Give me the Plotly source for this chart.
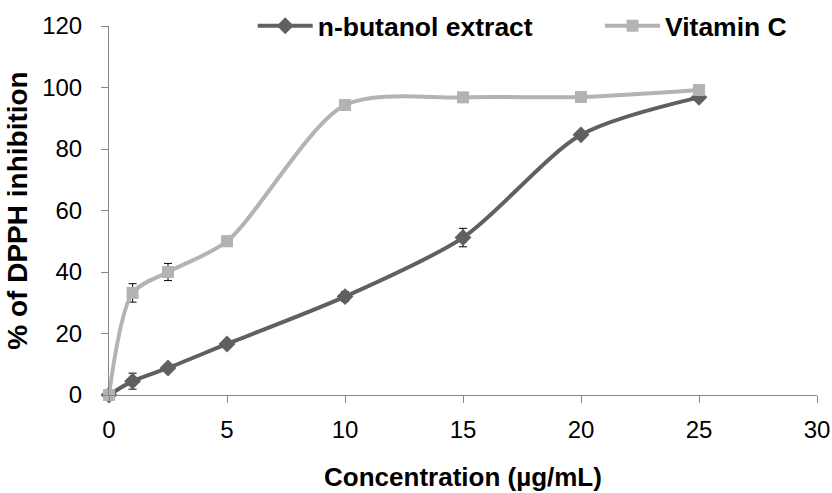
import plotly.graph_objects as go

conc = [0, 1, 2.5, 5, 10, 15, 20, 25]
butanol = [0, 4.5, 8.8, 16.6, 32.0, 51.2, 84.6, 96.8]
butanol_err = [0, 2.6, 1.0, 1.0, 1.6, 3.0, 1.0, 1.0]
vitc = [0, 33.2, 40.0, 50.0, 94.3, 96.8, 96.9, 99.2]
vitc_err = [0, 3.0, 2.8, 1.6, 0.6, 0.5, 0.5, 0.5]

FONT = "Liberation Sans, Arial, sans-serif"

fig = go.Figure()
fig.add_trace(go.Scatter(
    x=conc, y=butanol, name="n-butanol extract", mode="lines+markers",
    line=dict(color="#606060", width=4, shape="spline", smoothing=0.8),
    marker=dict(symbol="diamond", size=13, color="#606060"),
    error_y=dict(type="data", array=butanol_err, color="black", thickness=1, width=4),
    cliponaxis=False, legend="legend",
))
fig.add_trace(go.Scatter(
    x=conc, y=vitc, name="Vitamin C", mode="lines+markers",
    line=dict(color="#b3b3b3", width=4, shape="spline", smoothing=0.8),
    marker=dict(symbol="square", size=12, color="#b3b3b3"),
    error_y=dict(type="data", array=vitc_err, color="black", thickness=1, width=4),
    cliponaxis=False, legend="legend2",
))

leg_common = dict(
    orientation="h", y=1.0, xanchor="left", yanchor="middle",
    font=dict(family=FONT, size=26.5, color="black", weight="bold"),
    bgcolor="rgba(0,0,0,0)", itemwidth=55,
)

fig.update_layout(
    width=832, height=493,
    margin=dict(l=109, r=15, t=26, b=98, autoexpand=False),
    paper_bgcolor="white", plot_bgcolor="white",
    font=dict(family=FONT, size=24, color="black"),
    showlegend=True,
    legend=dict(x=0.203, **leg_common),
    legend2=dict(x=0.6935, **leg_common),
)
fig.update_xaxes(
    range=[0, 30], tickvals=[0, 5, 10, 15, 20, 25, 30],
    showgrid=False, zeroline=False, showline=True, linecolor="#868686", linewidth=1,
    ticks="outside", ticklen=7, tickcolor="#868686",
    tickfont=dict(size=24), ticklabelstandoff=6,
    title=dict(text="<b>Concentration (µg/mL)</b>", font=dict(size=26), standoff=26),
)
fig.update_yaxes(
    range=[0, 120], tickvals=[0, 20, 40, 60, 80, 100, 120],
    showgrid=False, zeroline=False, showline=True, linecolor="#868686", linewidth=1,
    ticks="outside", ticklen=7, tickcolor="#868686",
    tickfont=dict(size=24), ticklabelstandoff=14,
    title=dict(text="<b>% of DPPH inhibition</b>", font=dict(size=28), standoff=6),
)

fig.write_html("out.html")
